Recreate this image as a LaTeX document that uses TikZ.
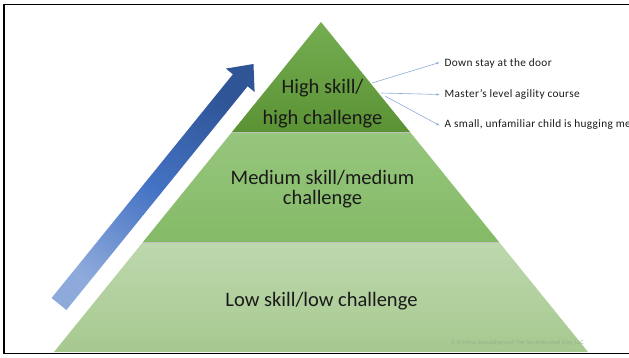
\documentclass[tikz,border=0pt]{standalone}
\usepackage{fontspec}
\setmainfont{Carlito}
\newfontfamily\notefont[LetterSpace=3]{Carlito}
\usetikzlibrary{arrows.meta}
\definecolor{tierAtop}{HTML}{75AE52}
\definecolor{tierAbot}{HTML}{5A9234}
\definecolor{tierBtop}{HTML}{97C67E}
\definecolor{tierBbot}{HTML}{84BA66}
\definecolor{tierCtop}{HTML}{BED8AE}
\definecolor{tierCbot}{HTML}{A6C98F}
\definecolor{arrLight}{HTML}{8EAADB}
\definecolor{arrMid}{HTML}{4472C4}
\definecolor{arrDark}{HTML}{2F5597}
\definecolor{callout}{HTML}{8FAADC}
\definecolor{copyc}{HTML}{97B28A}
\definecolor{txt}{HTML}{1A1A1A}
\begin{document}
\begin{tikzpicture}[x=1pt,y=1pt,
  tierlabel/.style={anchor=base,inner sep=0pt,text=txt,font=\fontsize{20.5}{24}\selectfont},
  notelabel/.style={anchor=west,inner sep=0pt,text=txt,font=\notefont\fontsize{11.3}{13}\selectfont},
  calloutline/.style={draw=callout,line width=0.6pt,-{Latex[length=3pt,width=2.6pt]}},
  tieredge/.style={draw=black!25,line width=0.3pt}]
\useasboundingbox (0,0) rectangle (629,-358);
\clip (0,0) rectangle (629,-358);
\fill[white] (0,0) rectangle (629,-358);
% frame
\draw[line width=1.8pt] (4,-4.5) rectangle (660,-353.5);
% pyramid tiers
\shade[top color=tierCtop,bottom color=tierCbot] (143,-242) -- (499,-242) -- (588,-352) -- (54,-352) -- cycle;
\shade[top color=tierBtop,bottom color=tierBbot] (232,-132) -- (410,-132) -- (499,-242) -- (143,-242) -- cycle;
\shade[top color=tierAtop,bottom color=tierAbot] (321,-22) -- (410,-132) -- (232,-132) -- cycle;
\draw[tieredge] (143,-242) -- (499,-242);
\draw[tieredge] (232,-132) -- (410,-132);
% blue arrow
\shade[bottom color=arrLight,top color=arrDark,middle color=arrMid,shading angle=-39]
  (51.6,-298) -- (232.9,-74.3) -- (225.9,-68.6) -- (253.5,-64) -- (254.6,-92)
  -- (247.6,-86.3) -- (66.4,-310) -- cycle;
% tier labels
\node[tierlabel] (hi1) at (322.5,-94) {High skill/};
\node[tierlabel] (hi2) at (322.5,-124.5) {high challenge};
\node[tierlabel] (me1) at (322.5,-185) {Medium skill/medium};
\node[tierlabel] (me2) at (322.5,-204.5) {challenge};
\node[tierlabel] (lo1) at (321.5,-306) {Low skill/low challenge};
% notes
\node[notelabel] (n1) at (444.5,-63.5) {Down stay at the door};
\node[notelabel] (n2) at (444.5,-94.5) {Master’s level agility course};
\node[notelabel] (n3) at (444.5,-124.5) {A small, unfamiliar child is hugging me!};
\coordinate (s1) at (372,-83);
\coordinate (s2) at (381,-93);
\coordinate (s3) at (385,-96);
\draw[calloutline] (s1) -- ([xshift=-5pt,yshift=1pt]n1.west);
\draw[calloutline] (s2) -- ([xshift=-5pt]n2.west);
\draw[calloutline] (s3) -- ([xshift=-5pt,yshift=-1pt]n3.west);
% copyright
\node[anchor=east,inner sep=0pt,text=copyc,font=\fontsize{6.3}{7}\selectfont] (copy) at (584,-342.5)
  {© Kristina Spaulding and The Sophisticated Dog, LLC};
\end{tikzpicture}
\end{document}
